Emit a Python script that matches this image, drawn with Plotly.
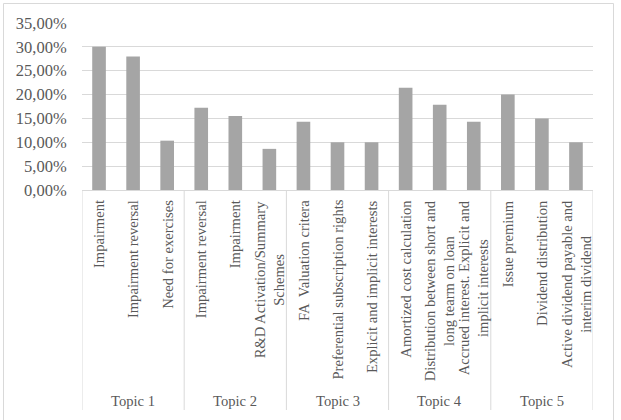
import plotly.graph_objects as go

topics = ["Topic 1", "Topic 2", "Topic 3", "Topic 4", "Topic 5"]
sub_labels = [
    "Impairment", "Impairment reversal", "Need for exercises",
    "Impairment reversal", "Impairment", "R&D Activation/Summary<br>Schemes",
    "FA  Valuation critera", "Preferential subscription rights", "Explicit and implicit interests",
    "Amortized cost calculation", "Distribution between short and<br>long tearm on loan",
    "Accrued interest. Explicit and<br>implicit interests",
    "Issue premium", "Dividend distribution", "Active dividend payable and<br>interim dividend",
]
values = [30.0, 28.0, 10.34, 17.24, 15.52, 8.62, 14.29, 10.0, 10.0,
          21.43, 17.86, 14.29, 20.0, 15.0, 10.0]
group_sizes = [3, 3, 3, 3, 3]
y_ticks = [0, 5, 10, 15, 20, 25, 30, 35]
y_tick_text = ["0,00%", "5,00%", "10,00%", "15,00%", "20,00%", "25,00%", "30,00%", "35,00%"]

FONT = "Liberation Serif, Times New Roman, serif"
TXT = "#595959"
LINE = "#d9d9d9"

W, H = 621, 420
L, R, T, B = 82, 28, 23, 230
ph = H - T - B
pw = W - L - R
Y0 = H - B  # pixel row of the value 0


def py(px_y):
    return (Y0 - px_y) / ph


def px(px_x):
    return (px_x - L) / pw


xs = list(range(len(values)))

fig = go.Figure(go.Bar(x=xs, y=values, width=0.4,
                       marker=dict(color="#a5a5a5", line=dict(width=0))))

annotations = []
for i, lab in enumerate(sub_labels):
    annotations.append(dict(x=i, xref="x", y=0, yref="paper", yshift=-8, text=lab,
                            textangle=-90, xanchor="center", yanchor="top", align="center",
                            showarrow=False, font=dict(family=FONT, size=14.6, color=TXT)))

shapes = []
start = 0
bounds = [-0.5]
for g in group_sizes:
    start += g
    bounds.append(start - 0.5)
for b in bounds:
    shapes.append(dict(type="line", xref="x", yref="paper", x0=b, x1=b, y0=0, y1=py(410),
                       line=dict(color=LINE, width=1)))

start = 0
for t, g in zip(topics, group_sizes):
    centre = start + (g - 1) / 2
    start += g
    annotations.append(dict(x=centre, xref="x", y=0, yref="paper", yshift=-211, text=t,
                            xanchor="center", yanchor="middle", showarrow=False,
                            font=dict(family=FONT, size=14.6, color=TXT)))

# outer chart border
shapes.append(dict(type="rect", xref="paper", yref="paper",
                   x0=px(3.5), x1=px(613.5), y0=py(440), y1=py(3.5),
                   line=dict(color=LINE, width=1), fillcolor="rgba(0,0,0,0)", layer="below"))

fig.update_layout(
    width=W, height=H,
    margin=dict(l=L, r=R, t=T, b=B, pad=0),
    paper_bgcolor="white", plot_bgcolor="white",
    showlegend=False,
    font=dict(family=FONT, size=14.6, color=TXT),
    xaxis=dict(range=[-0.5, len(values) - 0.5], showticklabels=False, showgrid=False,
               zeroline=False, showline=False, ticks="", fixedrange=True),
    yaxis=dict(range=[0, 35], tickvals=y_ticks, ticktext=y_tick_text, showgrid=True,
               gridcolor=LINE, gridwidth=1, zeroline=True, zerolinecolor=LINE, zerolinewidth=1,
               showline=False, ticks="outside", ticklen=11, tickcolor="rgba(0,0,0,0)",
               tickfont=dict(family=FONT, size=16.5, color=TXT), fixedrange=True),
    annotations=annotations,
    shapes=shapes,
    bargap=0.6,
)

fig.write_html("out.html", config={"displayModeBar": False},
               post_script="document.body.style.margin='0px';")
